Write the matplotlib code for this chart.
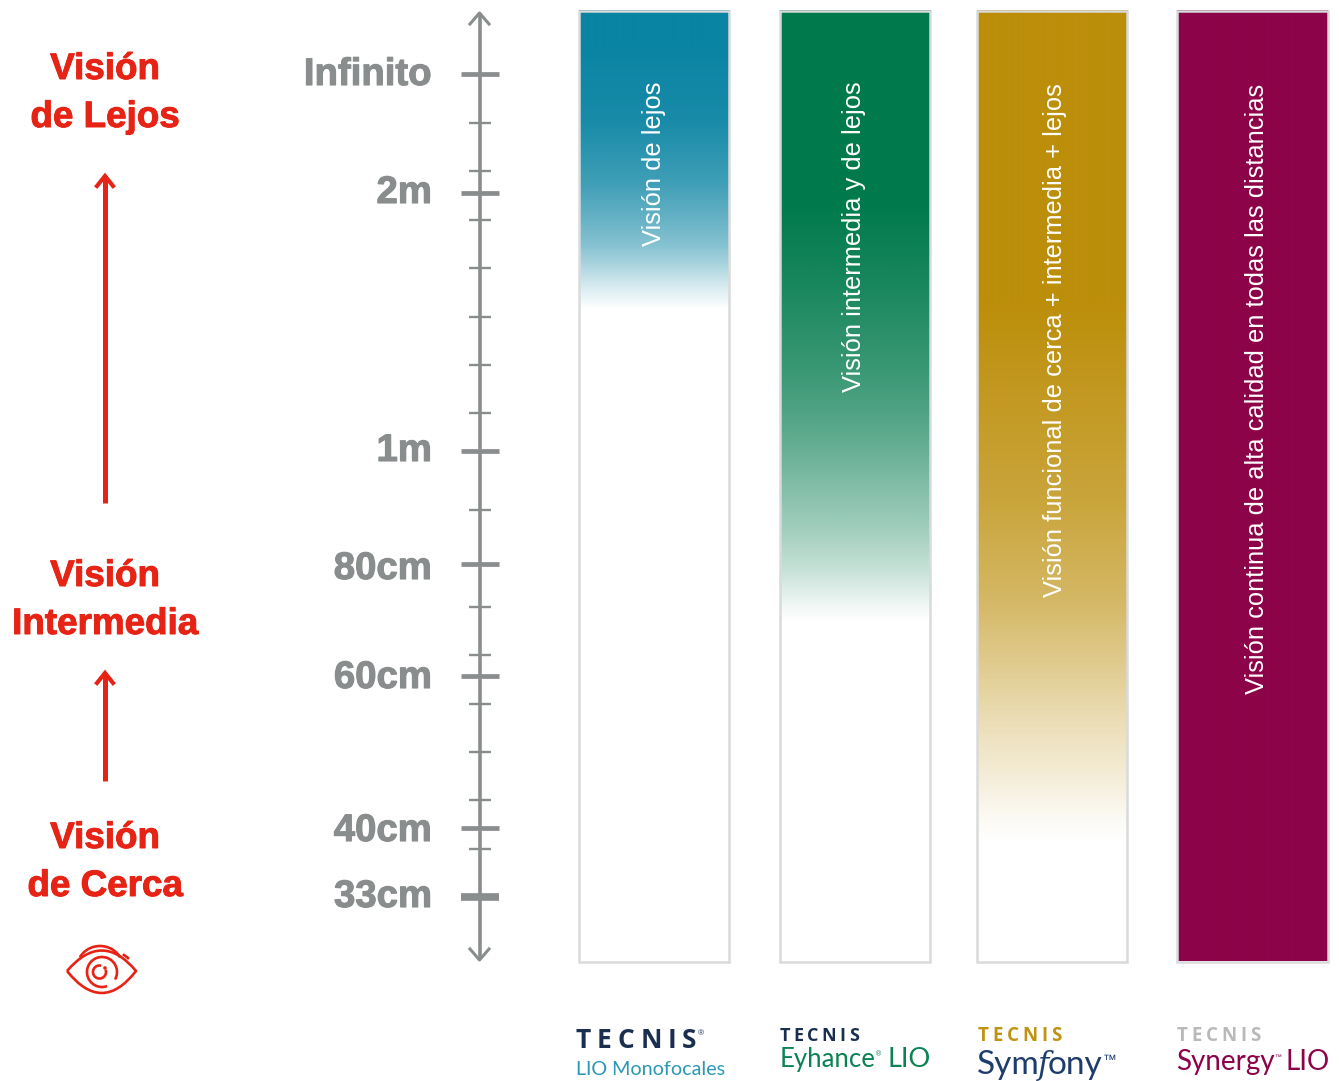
import numpy as np
import matplotlib.pyplot as plt
import matplotlib.patheffects as pe
from matplotlib.colors import LinearSegmentedColormap
from matplotlib.patches import Circle, Arc, PathPatch, Rectangle
from matplotlib.path import Path

# scale positions are pixel rows
scale_labels = ['Infinito', '2m', '1m', '80cm', '60cm', '40cm', '33cm']
major_y = [74, 192.5, 451, 564, 676, 828, 897]
label_base = [85, 203, 461, 579, 688, 841, 907]
major_lw = [3.4, 3.4, 3.4, 3.4, 3.4, 3.4, 5.5]
minor_y = [123, 171, 220, 268, 317, 365, 413, 510, 607, 655, 704, 752, 800, 849]

# bars, fade read as (row, share of white) pairs
bar_left = [578.5, 779.5, 976.5, 1177]
bar_colors = ['#0a84a3', '#007a4d', '#bc8e0a', '#8c0349']
fade_rows = [[41, 122, 184, 224, 245, 265, 286, 306, 310],
             [204, 286, 367, 408, 449, 490, 530, 571, 604, 622],
             [300, 400, 500, 600, 667, 733, 783, 817, 843],
             [12, 961]]
fade_white = [[0, 0.06, 0.22, 0.40, 0.50, 0.65, 0.83, 0.97, 1],
              [0, 0.10, 0.22, 0.30, 0.40, 0.52, 0.63, 0.78, 0.93, 1],
              [0, 0.10, 0.20, 0.37, 0.55, 0.73, 0.85, 0.95, 1],
              [0, 0]]
bar_texts = ['Visión de lejos', 'Visión intermedia y de lejos',
             'Visión funcional de cerca + intermedia + lejos',
             'Visión continua de alta calidad en todas las distancias']
bar_text_x = [654, 854, 1055, 1257]
bar_text_bottom = [246, 392, 597, 694]
bar_top = 11
bar_bottom = 961.5
bar_width = 150.5

# red labels on the left
red = '#e62314'
grey = '#8a8d8d'
vision_lines = [['Visión', 'de Lejos'], ['Visión', 'Intermedia'], ['Visión', 'de Cerca']]
vision_base = [79, 586, 848]
arrow_tops = [174, 671]
arrow_bottoms = [503, 781]

# logos under the bars
logo_colors = ['#1a2f50', '#1a2f50', '#c09412', '#b9b9b9']
logo_x = [576, 780, 978, 1177]
logo_track = [5.8, 3.2, 3.7, 3.7]
logo_size = [19, 13, 13.5, 13.5]
logo_base = [1048, 1041, 1041, 1041]

fig = plt.figure(figsize=(13.39, 10.81), dpi=100)
ax = fig.add_axes([0, 0, 1, 1])
ax.set_xlim(0, 1339)
ax.set_ylim(1081, 0)
ax.axis('off')
renderer = fig.canvas.get_renderer()

sans = 'Liberation Sans'


def put(x, y, s, size, color, family='Lato', weight='normal', track=0, style='normal'):
    # writes s from x on baseline y, returns the right edge in pixels
    pieces = list(s) if track else [s]
    for piece in pieces:
        t = ax.text(x, y, piece, color=color, fontsize=size, family=family, fontweight=weight,
                    style=style, ha='left', va='baseline')
        x = t.get_window_extent(renderer).x1 + track
    return x - track


# left column
for lines, base in zip(vision_lines, vision_base):
    for i, line in enumerate(lines):
        ax.text(105, base + i * 48, line, color=red, fontsize=26.5, fontweight='bold', family=sans,
                ha='center', va='baseline',
                path_effects=[pe.withStroke(linewidth=0.7, foreground=red)])
for top, bottom in zip(arrow_tops, arrow_bottoms):
    ax.plot([105, 105], [bottom, top + 2], color=red, lw=3.6, solid_capstyle='butt')
    ax.plot([97, 105, 113], [top + 12, top + 2, top + 12], color=red, lw=3, solid_joinstyle='miter')

# eye icon
eye = Path([(67, 971), (102, 930), (136, 971), (102, 1015), (67, 971)],
           [Path.MOVETO, Path.CURVE3, Path.CURVE3, Path.CURVE3, Path.CURVE3])
ax.add_patch(PathPatch(eye, fc='none', ec=red, lw=1.9, joinstyle='round'))
ax.add_patch(Arc((102, 972), 30, 30, theta1=-290, theta2=30, ec=red, lw=1.9))
ax.add_patch(Arc((99.5, 972), 13, 13, theta1=-20, theta2=285, ec=red, lw=1.9))
ax.add_patch(Circle((105, 968), 1.8, fc=red, ec='none'))
ax.add_patch(Arc((100, 968), 46, 44, theta1=208, theta2=332, ec=red, lw=1.9))
ax.plot([124, 128], [955, 958], color=red, lw=1.9)

# scale
ax.plot([479.5, 479.5], [13, 959], color=grey, lw=2.6, solid_capstyle='butt')
ax.plot([470, 479.5, 489], [24, 13, 24], color=grey, lw=2.2)
ax.plot([470, 479.5, 489], [949, 960, 949], color=grey, lw=2.2)
for y in minor_y:
    ax.plot([468.5, 490.5], [y, y], color=grey, lw=1.7, solid_capstyle='butt')
for y, lw in zip(major_y, major_lw):
    ax.plot([461, 498.5], [y, y], color=grey, lw=lw, solid_capstyle='butt')
for label, base in zip(scale_labels, label_base):
    ax.text(432, base, label, color=grey, fontsize=27.6, fontweight='bold', family=sans,
            ha='right', va='baseline',
            path_effects=[pe.withStroke(linewidth=0.8, foreground=grey)])

# bars with vertical fade to white
rows = np.arange(bar_top, bar_bottom)
for left, color, frows, fwhite, txt, tx, text_bottom in zip(bar_left, bar_colors, fade_rows, fade_white,
                                                            bar_texts, bar_text_x, bar_text_bottom):
    cmap = LinearSegmentedColormap.from_list('fade', [color, '#ffffff'])
    shade = np.interp(rows, frows, fwhite).reshape(-1, 1)
    ax.imshow(shade, cmap=cmap, vmin=0, vmax=1, aspect='auto', interpolation='bilinear',
              extent=[left, left + bar_width, bar_bottom, bar_top], zorder=1)
    ax.add_patch(Rectangle((left, bar_top), bar_width, bar_bottom - bar_top, fc='none',
                           ec='#d9dadb', lw=1.8, zorder=2))
    ax.text(tx, text_bottom, txt, color='white', fontsize=18.4, family=sans,
            rotation=90, ha='center', va='bottom', zorder=3)
ax.set_xlim(0, 1339)
ax.set_ylim(1081, 0)

# logos, wide tracking on the TECNIS word
for color, x0, track, size, base in zip(logo_colors, logo_x, logo_track, logo_size, logo_base):
    put(x0, base, 'TECNIS', size, color, family='Open Sans', weight='bold', track=track)

put(698, 1035, '®', 6, logo_colors[0], family=sans)
put(576, 1075, 'LIO Monofocales', 14.2, '#2a97b5')

right = put(780, 1067, 'Eyhance', 18.5, '#0b8253')
put(right, 1056, '®', 5, '#0b8253', family=sans)
put(888, 1067, 'LIO', 19.5, '#0b8253')

right = put(977, 1074, 'Sym', 24, '#1f3d6b')
right = put(right - 2, 1074, 'f', 22, '#1f3d6b', family='DejaVu Serif', style='italic')
right = put(right - 1, 1074, 'ony', 24, '#1f3d6b')
put(right, 1064, '™', 10, '#1f3d6b', family=sans)

right = put(1176, 1070, 'Synergy', 20, '#8c0349')
put(right, 1059, '™', 5, '#8c0349', family=sans)
put(1286, 1070, 'LIO', 20, '#8c0349')

fig.savefig('out.png', dpi=100)
